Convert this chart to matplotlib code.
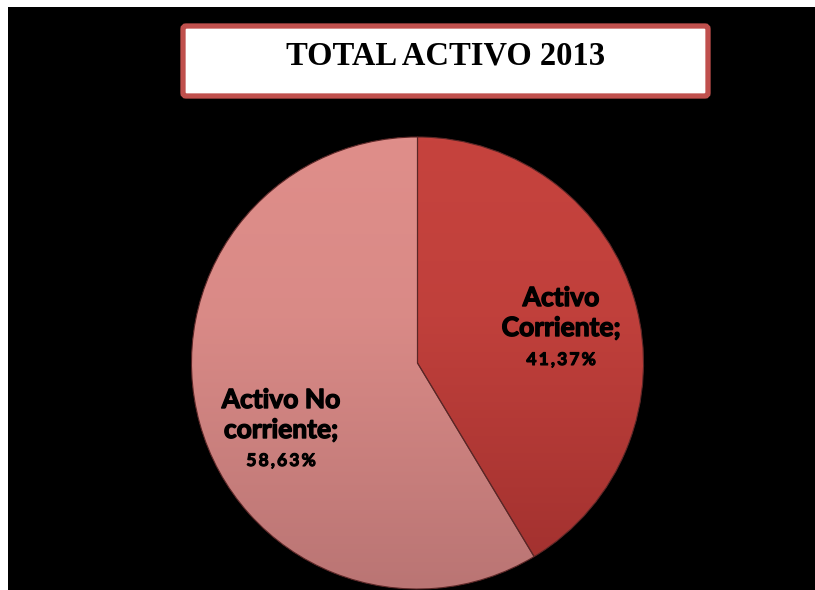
import numpy as np
import matplotlib
matplotlib.use("Agg")
import matplotlib.pyplot as plt
import matplotlib.patheffects as pe
from matplotlib.patches import Rectangle, FancyBboxPatch, PathPatch
from matplotlib.colors import LinearSegmentedColormap

# ---- data ----
title_text = "TOTAL ACTIVO 2013"
categories = ["Activo\nCorriente;", "Activo No\ncorriente;"]
shares = [41.37, 58.63]
top_colors = ["#C6433E", "#DF8E8A"]
bottom_colors = ["#A0302E", "#BA7574"]

W, H = 815, 590
fig = plt.figure(figsize=(W / 100, H / 100), dpi=100)
fig.patch.set_facecolor("white")
ax = fig.add_axes([0, 0, 1, 1])
ax.set_axis_off()


def py(y):
    # pixel row (from top) -> data y (from bottom)
    return H - y


# black slide background
ax.add_patch(Rectangle((8, 0), W - 8, H - 7, facecolor="black", edgecolor="none", zorder=0))

# title box
ax.add_patch(FancyBboxPatch((183, py(96)), 525, 70,
                            boxstyle="round,pad=0,rounding_size=3",
                            facecolor="white", edgecolor="#C0504D",
                            linewidth=3.8, zorder=2))
ax.text(446, py(56), title_text, ha="center", va="center",
        fontfamily="Liberation Serif", fontweight="bold", fontsize=23.5,
        color="black", zorder=3)

# pie
cx, cy, r = 417.5, py(363), 226
wedges, _ = ax.pie(shares, startangle=90, counterclock=False,
                   center=(cx, cy), radius=r, colors=top_colors,
                   wedgeprops=dict(edgecolor="none"))
for w in wedges:
    w.set_zorder(1)

# vertical shading inside each slice, lighter in the upper half
grad = np.concatenate([np.linspace(1, 0.85, 100), np.linspace(0.85, 0, 156)]).reshape(-1, 1)
for w, c_top, c_bot in zip(wedges, top_colors, bottom_colors):
    cmap = LinearSegmentedColormap.from_list("shade", [c_bot, c_top])
    im = ax.imshow(grad, extent=[cx - r, cx + r, cy - r, cy + r], origin="upper",
                   cmap=cmap, aspect="auto", zorder=1.5, interpolation="bilinear")
    im.set_clip_path(w)
    ax.add_patch(PathPatch(w.get_path(), transform=w.get_transform(),
                           facecolor="none", edgecolor="#5a2626",
                           linewidth=0.8, zorder=1.6))

# slice labels (thin stroke for a heavier look)
heavy = [pe.withStroke(linewidth=1.0, foreground="black")]
label_pos = [(561, 298, 328, 360), (281, 400, 430, 461)]
for name, val, (x, y1, y2, y3) in zip(categories, shares, label_pos):
    line1, line2 = name.split("\n")
    for txt, yy in ((line1, y1), (line2, y2)):
        ax.text(x, py(yy), txt, ha="center", va="center", fontfamily="Lato",
                fontweight="bold", fontsize=19, color="black", zorder=4,
                path_effects=heavy)
    # percentage, letter-spaced with thin spaces
    pct = "\u2009".join(f"{val:.2f}".replace(".", ",") + "%")
    ax.text(x, py(y3), pct, ha="center", va="center",
            fontfamily=["Lato", "DejaVu Sans"], fontweight="bold", fontsize=12.5,
            color="black", zorder=4,
            path_effects=[pe.withStroke(linewidth=0.8, foreground="black")])

ax.set_xlim(0, W)
ax.set_ylim(0, H)
ax.set_aspect("auto")

fig.savefig("out.png", dpi=100, facecolor=fig.get_facecolor())
